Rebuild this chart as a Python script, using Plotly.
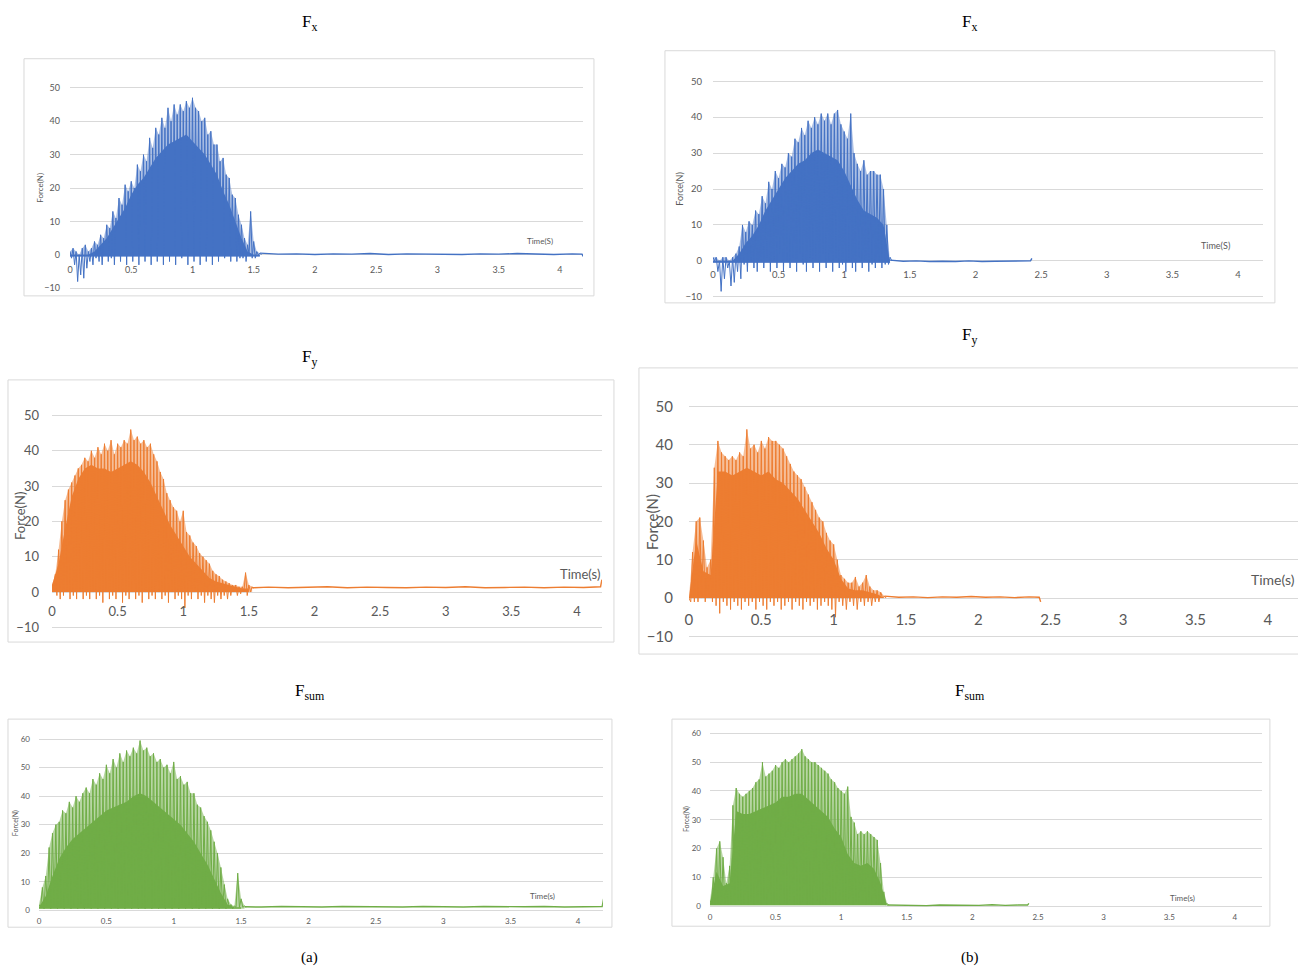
import numpy as np
import plotly.graph_objects as go

W, H = 1298, 969
# Layout positions below are given in page pixels; this maps them onto the figure
# (small offset / scale of the rendered page).
OX, SX = 4.0, 0.997
OY, SY = 7.3, 0.985

# Sampling of the recorded bursts (s): peaks every STEP, troughs half a step later,
# dense-core envelope every CORE_STEP.
STEP = 0.025
CORE_STEP = 0.05

# ---------------- (a) Fx ----------------
fx_a_peak = [1, 2, 1, 0, 2, 3, 1, 2, 4, 3, 6, 5, 9, 8, 13, 11, 17, 15, 21, 19, 22, 20,
             27, 25, 30, 28, 35, 32, 38, 36, 41, 38, 44, 40, 45, 42, 45, 43, 46, 44, 47,
             44, 43, 40, 41, 36, 37, 33, 33, 28, 29, 24, 23, 18, 17, 12, 9, 5, 3, 13, 4, 1, 0.5]
fx_a_low = [-1, -3, -8, -6, -7, -4, -2, -3, -1, -2, -3, 0, -2, -1, -3, 1, -2, 0, -3, 1, -2,
            2, -3, 0, -2, 1, -3, 2, -2, 3, -3, 1, -2, 2, -3, 3, -1, 2, -3, 1, -2, 3, -3, 0,
            -2, 2, -3, 1, -2, 2, -1, 0, -2, 1, -2, -1, -1, -2, 0, -1, -1, 0, 0]
fx_a_core = [0, 0, 0, 0, 1, 3, 5, 8, 11, 14, 18, 21, 23, 26, 29, 31, 33, 34, 35, 36, 34,
             32, 30, 27, 24, 19, 15, 10, 5, 1, 0, 0]
fx_a_tail_t = [1.55, 1.7, 1.85, 2.0, 2.15, 2.3, 2.45, 2.6, 2.75, 2.9, 3.05, 3.2, 3.35, 3.5,
               3.65, 3.8, 3.95, 4.1, 4.18, 4.19]
fx_a_tail_y = [0.5, 0.2, 0.3, 0.1, 0.3, 0.2, 0.4, 0.1, 0.3, 0.2, 0.3, 0.1, 0.3, 0.2, 0.4,
               0.2, 0.1, 0.3, 0.2, -0.5]

# ---------------- (b) Fx ----------------
fx_b_peak = [1, 1, 0, 1, 1, 0, 1, 2, 4, 10, 8, 11, 10, 14, 13, 18, 16, 22, 20, 25, 23, 27,
             26, 30, 29, 34, 33, 37, 35, 39, 37, 40, 38, 41, 39, 41, 38, 41, 42, 38, 36, 34,
             41, 30, 27, 25, 28, 24, 25, 25, 24, 24, 20, 10, 1]
fx_b_low = [0, -3, -8.5, -5, -2, -7, -6, -3, -5, -1, -3, 0, -2, -3, 0, -2, 1, -3, 0, -2, 2,
            -3, 0, -2, 1, -3, 2, -1, -3, 1, -2, 0, -3, 2, -2, 0, -3, 1, -2, -1, -3, 0, -2,
            -3, 1, -2, 0, -3, -1, -2, 0, -2, -1, -1, 0]
fx_b_core = [0, 0, 0, 0, 2, 5, 7, 10, 14, 17, 20, 23, 25, 27, 28, 30, 31, 30, 29, 28, 25,
             21, 17, 14, 13, 12, 10, 0]
fx_b_tail_t = [1.35, 1.45, 1.55, 1.65, 1.75, 1.85, 1.95, 2.05, 2.15, 2.25, 2.35, 2.42, 2.43]
fx_b_tail_y = [0.2, -0.1, 0.0, -0.2, -0.1, -0.2, 0.0, -0.2, -0.1, 0.0, -0.1, 0.0, 0.7]

# ---------------- (a) Fy ----------------
fy_a_peak = [2, 5, 12, 20, 26, 29, 31, 33, 35, 36, 38, 37, 40, 38, 41, 39, 42, 40, 43, 39,
             42, 41, 43, 42, 46, 43, 44, 42, 43, 41, 42, 39, 37, 34, 32, 28, 26, 24, 23, 20,
             23, 17, 16, 14, 13, 11, 10, 9, 8, 6, 5, 4.5, 3.5, 3, 2.5, 2, 2, 1.5, 1.5, 5.5,
             2, 1.5]
fy_a_low = [0, -1, -2, -1, 0, -2, -1, -2, 0, -2, -1, -2, 0, -2, -1, -3, 0, -2, -1, -2, 0,
            -3, -1, -2, 0, -2, -1, -3, 0, -2, -1, -2, 0, -2, -1, -3, 0, -2, -1, -2, -4.5,
            -1, -2, 0, -2, -1, -3, -1, -2, -3, -1, -2, -1, -2, -1, 0, -1, -0.5, 0, -1, 0, 1]
fy_a_core = [2, 8, 18, 27, 32, 35, 36, 35, 35, 34, 35, 36, 37, 36, 34, 31, 27, 23, 19, 16,
             13, 10, 8, 6, 4, 3, 2.5, 2, 1.5, 1, 1]
fy_a_tail_t = [1.525, 1.65, 1.8, 1.95, 2.1, 2.25, 2.4, 2.55, 2.7, 2.85, 3.0, 3.15, 3.3,
               3.45, 3.6, 3.75, 3.9, 4.05, 4.18, 4.19]
fy_a_tail_y = [1.2, 1.4, 1.2, 1.3, 1.5, 1.2, 1.4, 1.3, 1.2, 1.4, 1.3, 1.5, 1.2, 1.3, 1.4,
               1.2, 1.4, 1.3, 1.5, 3.5]

# ---------------- (b) Fy ----------------
fy_b_peak = [0, 12, 20, 21, 15, 8, 10, 34, 41, 38, 37, 36, 37, 36, 38, 37, 44, 39, 40, 38,
             41, 39, 42, 41, 41, 40, 39, 37, 35, 33, 32, 31, 29, 27, 25, 23, 21, 20, 17, 15,
             14, 10, 6, 5, 4, 4, 5.5, 3, 4, 6, 3, 2, 2, 1.5, 0.5]
fy_b_low = [-1, -1, -1, 0, -1, 0, -1, -2, -4, -1, -2, -3, -1, -2, -3, -1, -2, -1, -3, -1,
            -2, -3, -1, -2, -1, -3, -2, -1, -3, -1, -2, -3, -1, -2, -1, -3, -2, -1, -2, -3,
            -5, -1, -2, -3, -1, -2, -3, -1, -2, -1, -2, -1, -1, 0, 0]
fy_b_core = [0, 15, 7, 6, 33, 33, 32, 33, 34, 33, 32, 33, 31, 30, 28, 26, 23, 20, 17, 13,
             10, 5, 2.5, 2, 2, 1.5, 1, 0]
fy_b_tail_t = [1.35, 1.45, 1.55, 1.65, 1.75, 1.85, 1.95, 2.05, 2.15, 2.25, 2.35, 2.42, 2.43]
fy_b_tail_y = [0.5, 0.2, 0.3, 0.1, 0.3, 0.2, 0.4, 0.2, 0.3, 0.1, 0.3, 0.2, -1.0]

# ---------------- (a) Fsum ----------------
fs_a_peak = [2, 8, 12, 22, 27, 30, 31, 35, 34, 38, 36, 40, 38, 41, 43, 41, 46, 44, 48, 46,
             51, 48, 53, 50, 55, 52, 56, 54, 57, 55, 59.5, 56, 57, 54, 55, 52, 53, 50, 51,
             48, 52, 46, 47, 44, 45, 41, 41, 37, 36, 33, 31, 28, 24, 20, 15, 9, 4, 2, 1.5,
             13, 4, 1.5]
fs_a_low = [1, 0.5, 1.5, 0.5, 2, 0.5, 1, 0.5, 2, 0.5, 1.5, 0.5, 2.5, 0.5, 1, 0.5, 2, 0.5,
            1.5, 0.5, 3, 0.5, 1, 0.5, 2, 0.5, 1.5, 0.5, 2.5, 0.5, 1, 0.5, 3, 0.5, 1.5, 0.5,
            2, 0.5, 1, 0.5, 2, 0.5, 1.5, 0.5, 2, 0.5, 1, 0.5, 2, 0.5, 1, 0.5, 1.5, 0.5, 1,
            0.5, 1, 0.5, 1, 1, 1, 1]
fs_a_core = [1, 5, 12, 18, 22, 25, 27, 29, 31, 33, 35, 36, 37, 38, 40, 41, 40, 38, 36, 34,
             32, 30, 27, 24, 20, 16, 11, 6, 2, 1, 1]
fs_a_tail_t = [1.525, 1.65, 1.8, 1.95, 2.1, 2.25, 2.4, 2.55, 2.7, 2.85, 3.0, 3.15, 3.3,
               3.45, 3.6, 3.75, 3.9, 4.05, 4.18, 4.19]
fs_a_tail_y = [1.2, 1.1, 1.3, 1.2, 1.1, 1.3, 1.2, 1.2, 1.1, 1.3, 1.2, 1.1, 1.3, 1.2, 1.2,
               1.3, 1.1, 1.2, 1.3, 4.0]

# ---------------- (b) Fsum ----------------
fs_b_peak = [2, 10, 20, 22.5, 17, 8, 14, 35, 41, 39, 38, 39, 40, 41, 43, 44, 50, 45, 46, 47,
             49, 48, 50, 51, 50, 51, 52, 53, 54.5, 52, 51, 50, 50, 49, 48, 47, 46, 44, 43,
             41, 40, 39, 41.5, 31, 29, 25, 26, 25, 26, 25, 24, 23, 15, 5, 1]
fs_b_low = [1, 0.5, 1, 0.5, 1, 0.5, 1, 0.5, 2, 0.5, 1, 0.5, 1.5, 0.5, 1, 0.5, 2, 0.5, 1,
            0.5, 1.5, 0.5, 1, 0.5, 2, 0.5, 1, 0.5, 1.5, 0.5, 1, 0.5, 2, 0.5, 1, 0.5, 1.5,
            0.5, 1, 0.5, 1.5, 0.5, 1, 0.5, 1.5, 0.5, 1, 0.5, 1, 0.5, 1, 0.5, 1, 0.5, 0.3]
fs_b_core = [1, 12, 7, 8, 33, 32, 32, 33, 34, 35, 36, 38, 38, 39, 39, 37, 35, 33, 31, 27,
             24, 18, 15, 14, 15, 13, 8, 0]
fs_b_tail_t = [1.35, 1.45, 1.55, 1.65, 1.75, 1.85, 1.95, 2.05, 2.15, 2.25, 2.35, 2.42, 2.43]
fs_b_tail_y = [0.4, 0.3, 0.4, 0.2, 0.4, 0.3, 0.4, 0.3, 0.5, 0.3, 0.4, 0.4, 1.0]

x_tick_vals = [0, 0.5, 1, 1.5, 2, 2.5, 3, 3.5, 4]
x_tick_text = ["0", "0.5", "1", "1.5", "2", "2.5", "3", "3.5", "4"]

BLUE, ORANGE, GREEN = "#4472C4", "#ED7D31", "#70AD47"
TINT = {BLUE: "rgba(68,114,196,0.45)", ORANGE: "rgba(237,125,49,0.5)",
        GREEN: "rgba(112,173,71,0.5)"}
GRID = "#D9D9D9"
TICK = "#595959"
SANS = "Lato, 'Open Sans', sans-serif"
SERIF = "'Liberation Serif', 'Times New Roman', serif"

# Panel calibration in page pixels: x0 = pixel of t=0, xu = pixels per second,
# xr = right end of plot area, y0 = pixel of F=0, yu = pixels per 10 N.
panels = [
    dict(peak=fx_a_peak, low=fx_a_low, core=fx_a_core, base=-0.5,
         tt=fx_a_tail_t, ty=fx_a_tail_y, color=BLUE, ymin=-10, ymax=50,
         x0=70, xu=122.5, xr=583, y0=254, yu=33.4, box=(24, 58, 594, 295),
         title=("F<sub>x</sub>", 310, 22), fs=9, xoff=8, ygap=9,
         ylab=(40, 187, 8), tlab=("Time(S)", 540, 240, 8, "center")),
    dict(peak=fx_b_peak, low=fx_b_low, core=fx_b_core, base=-0.5,
         tt=fx_b_tail_t, ty=fx_b_tail_y, color=BLUE, ymin=-10, ymax=50,
         x0=713, xu=131.25, xr=1263, y0=260, yu=35.9, box=(665, 50, 1275, 302),
         title=("F<sub>x</sub>", 970, 22), fs=9.5, xoff=7, ygap=10,
         ylab=(680, 188, 9), tlab=("Time(S)", 1216, 245, 9, "center")),
    dict(peak=fy_a_peak, low=fy_a_low, core=fy_a_core, base=0,
         tt=fy_a_tail_t, ty=fy_a_tail_y, color=ORANGE, ymin=-10, ymax=50,
         x0=52, xu=131.25, xr=602, y0=591, yu=35.3, box=(8, 379, 614, 641),
         title=("F<sub>y</sub>", 310, 357), fs=13, xoff=10, ygap=12,
         ylab=(20, 515, 13), tlab=("Time(s)", 580, 573, 13, "center")),
    dict(peak=fy_b_peak, low=fy_b_low, core=fy_b_core, base=0,
         tt=fy_b_tail_t, ty=fy_b_tail_y, color=ORANGE, ymin=-10, ymax=50,
         x0=689, xu=144.75, xr=1298, y0=597, yu=38.3, box=(639, 367, 1310, 653),
         title=("F<sub>y</sub>", 970, 335), fs=15, xoff=11, ygap=15,
         ylab=(652, 521, 15), tlab=("Time(s)", 1297, 578, 14, "right")),
    dict(peak=fs_a_peak, low=fs_a_low, core=fs_a_core, base=0.5,
         tt=fs_a_tail_t, ty=fs_a_tail_y, color=GREEN, ymin=0, ymax=60,
         x0=39, xu=134.75, xr=603, y0=909, yu=28.5, box=(8, 718, 612, 926),
         title=("F<sub>sum</sub>", 310, 691), fs=8, xoff=5, ygap=8,
         ylab=(15, 822, 7), tlab=("Time(s)", 543, 895, 8, "center")),
    dict(peak=fs_b_peak, low=fs_b_low, core=fs_b_core, base=0.3,
         tt=fs_b_tail_t, ty=fs_b_tail_y, color=GREEN, ymin=0, ymax=60,
         x0=710, xu=131.25, xr=1262, y0=905, yu=28.8, box=(672, 718, 1270, 925),
         title=("F<sub>sum</sub>", 970, 691), fs=8, xoff=5, ygap=8,
         ylab=(686, 818, 7), tlab=("Time(s)", 1183, 897, 8, "center")),
]


def px(x):
    """page pixel -> paper x"""
    return ((x - OX) / SX) / W


def py(y):
    """page pixel -> paper y"""
    return 1 - ((y - OY) / SY) / H


fig = go.Figure()
layout = dict(width=W, height=H, margin=dict(l=0, r=0, t=0, b=0),
              paper_bgcolor="white", plot_bgcolor="white", showlegend=False,
              shapes=[], annotations=[])

for i, p in enumerate(panels, start=1):
    xa, ya = f"x{i}", f"y{i}"
    pad = 0.5
    xr = min(p["xr"], OX + SX * W)
    xmax = (xr - p["x0"]) / p["xu"]
    ylo, yhi = p["ymin"] - pad, p["ymax"] + pad
    to_px = lambda v: p["y0"] - v * p["yu"] / 10.0

    layout[f"xaxis{i}"] = dict(
        domain=[max(px(p["x0"]), 0), min(px(xr), 1)], range=[0, xmax], anchor="free",
        position=py(p["y0"]), showgrid=False, zeroline=False, showline=False,
        ticks="", tickvals=x_tick_vals, ticktext=x_tick_text,
        ticklabelstandoff=p["xoff"], fixedrange=True,
        tickfont=dict(family=SANS, size=p["fs"], color=TICK))
    layout[f"yaxis{i}"] = dict(
        domain=[py(to_px(ylo)), py(to_px(yhi))], range=[ylo, yhi], anchor=xa,
        showgrid=True, gridcolor=GRID, gridwidth=1, zeroline=False, showline=False,
        ticks="", dtick=10, tick0=0, ticklabelstandoff=p["ygap"], fixedrange=True,
        tickfont=dict(family=SANS, size=p["fs"], color=TICK))

    tp = STEP * np.arange(len(p["peak"]))

    # light band reached only by the taller oscillation cycles
    band_x = np.concatenate([tp, [tp[-1], tp[0]]])
    band_y = np.concatenate([np.array(p["peak"], float), [p["base"], p["base"]]])
    fig.add_trace(go.Scatter(x=band_x, y=band_y, xaxis=xa, yaxis=ya, mode="lines",
                             fill="toself", fillcolor=TINT[p["color"]],
                             line=dict(width=0), hoverinfo="skip"))

    # dense core of the oscillation
    tc = CORE_STEP * np.arange(len(p["core"]))
    core_x = np.concatenate([tc, [tc[-1], tc[0]]])
    core_y = np.concatenate([np.array(p["core"], float), [p["base"], p["base"]]])
    fig.add_trace(go.Scatter(x=core_x, y=core_y, xaxis=xa, yaxis=ya, mode="lines",
                             fill="toself", fillcolor=p["color"], line=dict(width=0),
                             hoverinfo="skip"))

    # oscillating signal: peak / trough sequence
    sig_x = np.empty(2 * len(tp))
    sig_y = np.empty(2 * len(tp))
    sig_x[0::2], sig_x[1::2] = tp, tp + STEP / 2
    sig_y[0::2], sig_y[1::2] = p["peak"], p["low"]
    fig.add_trace(go.Scatter(x=sig_x, y=sig_y, xaxis=xa, yaxis=ya, mode="lines",
                             line=dict(color=p["color"], width=1.0), hoverinfo="skip"))

    # quiet tail after the burst
    fig.add_trace(go.Scatter(x=p["tt"], y=p["ty"], xaxis=xa, yaxis=ya, mode="lines",
                             line=dict(color=p["color"], width=1.4), hoverinfo="skip"))

    # chart frame
    bx0, by0, bx1, by1 = p["box"]
    layout["shapes"].append(dict(type="rect", xref="paper", yref="paper",
                                 x0=px(bx0), x1=px(bx1), y0=py(by1), y1=py(by0),
                                 line=dict(color=GRID, width=1), layer="below"))

    # panel title
    ttxt, tx, ty = p["title"]
    layout["annotations"].append(dict(text=ttxt, x=px(tx), y=py(ty), xref="paper",
                                      yref="paper", showarrow=False, xanchor="center",
                                      yanchor="middle",
                                      font=dict(family=SERIF, size=17, color="black")))
    # y axis title
    lx, ly, lsz = p["ylab"]
    layout["annotations"].append(dict(text="Force(N)", x=px(lx), y=py(ly), xref="paper",
                                      yref="paper", showarrow=False, textangle=-90,
                                      xanchor="center", yanchor="middle",
                                      font=dict(family=SANS, size=lsz, color=TICK)))
    # time label
    tl, tlx, tly, tsz, tanc = p["tlab"]
    layout["annotations"].append(dict(text=tl, x=min(px(tlx), 1), y=py(tly), xref="paper",
                                      yref="paper", showarrow=False, xanchor=tanc,
                                      yanchor="middle",
                                      font=dict(family=SANS, size=tsz, color=TICK)))

for lab, lx in (("(a)", 310), ("(b)", 970)):
    layout["annotations"].append(dict(text=lab, x=px(lx), y=py(956), xref="paper",
                                      yref="paper", showarrow=False, xanchor="center",
                                      yanchor="middle",
                                      font=dict(family=SERIF, size=15, color="black")))

fig.update_layout(**layout)
fig.write_html("out.html")
